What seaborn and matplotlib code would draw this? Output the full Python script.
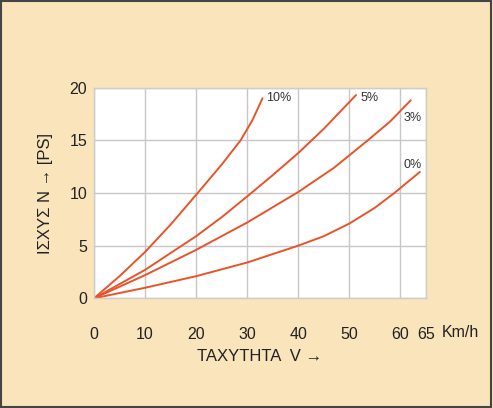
import matplotlib
matplotlib.use("Agg")
import matplotlib.pyplot as plt
import seaborn as sns
import pandas as pd
from matplotlib.patches import Rectangle

# Data (speed V in km/h, power N in PS)
v_10 = [0, 5, 10, 15, 20.3, 25, 28.7, 31, 33.0]
n_10 = [0, 2.1, 4.4, 7.0, 10.0, 12.7, 15.0, 16.9, 19.0]

v_5 = [0, 10, 20, 25, 30.3, 35, 40, 45, 51.3]
n_5 = [0, 2.7, 5.9, 7.7, 9.8, 11.7, 13.8, 16.1, 19.3]

v_3 = [0, 10, 20, 30, 40, 47, 53.6, 58, 62.0]
n_3 = [0, 2.2, 4.6, 7.2, 10.1, 12.4, 15.0, 16.8, 18.8]

v_0 = [0, 10, 20, 30, 40, 45, 50, 55, 58.8, 63.8]
n_0 = [0, 1.0, 2.1, 3.4, 5.0, 5.9, 7.1, 8.6, 10.0, 12.0]

series_names = ["10%", "5%", "3%", "0%"]
x_ticks = [0, 10, 20, 30, 40, 50, 60, 65]
y_ticks = [0, 5, 10, 15, 20]

frames = []
for name, vs, ns in zip(series_names, [v_10, v_5, v_3, v_0], [n_10, n_5, n_3, n_0]):
    frames.append(pd.DataFrame({"V": vs, "N": ns, "grade": name}))
df = pd.concat(frames, ignore_index=True)

sns.set_style("white")
plt.rcParams["font.family"] = ["Liberation Sans", "DejaVu Sans"]

bg = "#f9e4bb"
fig = plt.figure(figsize=(4.93, 4.08), dpi=100, facecolor=bg)
ax = fig.add_axes([94 / 493, 1 - 298.3 / 408, (426 - 94) / 493, (298.3 - 87.7) / 408])
ax.set_facecolor("white")

line_color = "#e8532b"
sns.lineplot(data=df, x="V", y="N", units="grade", estimator=None, sort=False,
             color=line_color, linewidth=1.4, ax=ax, legend=False)

ax.set_xlim(0, 65)
ax.set_ylim(0, 20)
ax.set_xticks(x_ticks)
ax.set_yticks(y_ticks)
ax.set_xticklabels([str(t) for t in x_ticks])
ax.set_yticklabels([str(t) for t in y_ticks])
ax.grid(True, color="#c9c6c6", linewidth=1.0)
ax.tick_params(axis="both", length=0, labelsize=11.5, colors="#222222")
ax.tick_params(axis="x", pad=21)
ax.tick_params(axis="y", pad=5)
for s in ax.spines.values():
    s.set_color("#d0cccc")
    s.set_linewidth(1.0)

ax.set_xlabel("ΤΑΧΥΤΗΤΑ  V →", fontsize=12, color="#222222", labelpad=5)
ax.set_ylabel("ΙΣΧΥΣ N → [PS]", fontsize=12, color="#222222", labelpad=12)

# curve labels
label_pos = {"10%": (33.6, 19.0), "5%": (52.2, 19.0),
             "3%": (60.6, 17.1), "0%": (60.6, 12.7)}
for name in series_names:
    x, y = label_pos[name]
    ax.text(x, y, name, fontsize=9, color="#333333", ha="left", va="center")

ax.text(1.047, -0.163, "Km/h", transform=ax.transAxes, fontsize=11.5,
        color="#222222", ha="left", va="center", clip_on=False)

# outer frame
fig.patches.append(Rectangle((0.002, 0.003), 0.994, 0.994, transform=fig.transFigure,
                             fill=False, edgecolor="#444444", linewidth=1.5))

fig.savefig("out.png", dpi=100, facecolor=bg)
